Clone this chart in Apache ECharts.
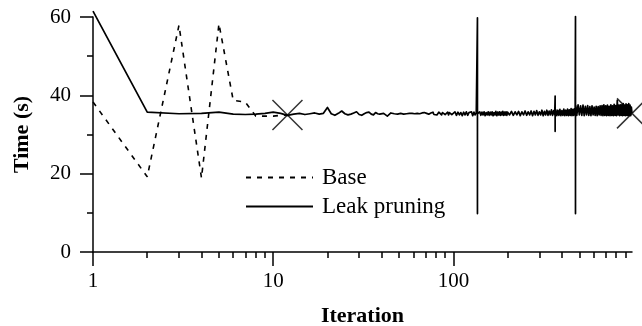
<!DOCTYPE html>
<html>
<head>
<meta charset="utf-8">
<script src="https://cdn.jsdelivr.net/npm/echarts@6/dist/echarts.min.js"></script>
<style>
  html, body { margin: 0; padding: 0; background: #fff; }
  #chart { width: 642px; height: 326px; }
</style>
</head>
<body>
<div id="chart"></div>
<script>
// Base run, iterations 1..12
const baseTime = [38.3, 19.2, 57.9, 18.9, 58.3, 38.7, 38.3, 34.7, 34.7, 34.7, 34.9, 35.0]

// Leak pruning, iterations 1..99 (one value per iteration)
const leakHead = [
  61.5, 35.7, 35.3, 35.4, 35.7, 35.2, 35.1, 35.2, 35.4, 35.7,
  35.4, 34.9, 35.2, 35.4, 35.1, 35.3, 35.5, 35.2, 35.4, 36.9,
  35.3, 34.9, 35.4, 36.0, 35.3, 35.0, 35.2, 35.5, 35.8, 35.1,
  34.9, 35.3, 35.6, 35.7, 35.2, 35.0, 35.6, 35.3, 35.2, 35.7,
  35.4, 35.0, 34.7, 35.2, 35.5, 35.1, 35.3, 35.6, 35.2, 35.0,
  35.4, 35.6, 35.2, 35.0, 35.3, 35.6, 35.4, 35.1, 35.4, 35.6,
  35.3, 35.0, 35.4, 35.7, 35.3, 35.1, 35.5, 35.2, 35.6, 35.1,
  35.4, 35.7, 35.2, 35.0, 35.5, 35.3, 35.7, 35.1, 35.4, 35.6,
  35.0, 35.4, 35.7, 35.2, 35.5, 35.0, 35.6, 35.3, 35.7, 35.1,
  35.5, 35.2, 35.7, 35.0, 35.6, 35.3, 35.8, 35.1, 35.6
]

// Leak pruning from iteration 100 on, [iteration, time] (sampled, spikes kept)
const leakTail = [
  [100, 35.2], [102, 35.8], [104, 34.9], [106, 35.7], [108, 35.0], [110, 35.6],
  [112, 34.8], [114, 35.7], [116, 35.0], [118, 35.8], [120, 34.9], [122, 35.6],
  [124, 35.1], [126, 35.8], [128, 34.8], [130, 35.7], [132, 35.0], [134, 35.6],
  [136, 35.3], [136, 59.8], [136, 9.8], [136, 35.3],
  [138, 35.0], [140, 35.8], [142, 34.9], [144, 35.7], [146, 35.0], [148, 35.8],
  [150, 34.8], [152, 35.6], [154, 35.0], [156, 35.8], [158, 34.9], [160, 35.7],
  [162, 35.0], [164, 35.8], [166, 34.8], [168, 35.6], [170, 35.0], [172, 35.9],
  [174, 34.8], [176, 35.7], [178, 35.0], [180, 35.8], [182, 34.9], [184, 35.7],
  [186, 35.0], [188, 35.9], [190, 34.9], [192, 35.7], [194, 35.0], [196, 35.8],
  [198, 34.9], [200, 35.7],
  [205, 35.0], [210, 35.9], [215, 34.9], [220, 35.8], [225, 35.0], [230, 35.9],
  [235, 34.8], [240, 35.8], [245, 35.0], [250, 36.0], [255, 34.9], [260, 35.8],
  [265, 35.0], [270, 36.0], [275, 34.8], [280, 35.9], [285, 35.0], [290, 36.1],
  [295, 34.9], [300, 35.8], [305, 35.0], [310, 36.2], [315, 34.8], [320, 35.9],
  [325, 35.0], [330, 36.2], [335, 34.9], [340, 36.0], [345, 35.0], [350, 36.3],
  [355, 34.9], [360, 36.1], [365, 35.0],
  [367, 35.4], [367, 39.8], [367, 30.8], [367, 35.4],
  [370, 36.3], [375, 34.8], [380, 36.2], [385, 34.9], [390, 36.4], [395, 34.8],
  [400, 36.1], [405, 34.9], [410, 36.5], [415, 34.8], [420, 36.2], [425, 34.9],
  [430, 36.5], [435, 34.8], [440, 36.3], [445, 34.9], [450, 36.6], [455, 34.8],
  [460, 36.4], [465, 34.9], [470, 36.6], [474, 35.0],
  [476, 35.5], [476, 60.1], [476, 9.8], [476, 35.5],
  [478, 37.4], [484, 34.9], [492, 37.6], [500, 35.0], [508, 37.3], [516, 34.9],
  [524, 37.5], [532, 34.8], [540, 37.2], [548, 35.0], [556, 37.4], [564, 34.9],
  [572, 37.1], [580, 34.8], [588, 37.3], [596, 35.0], [604, 37.0], [612, 34.9],
  [620, 37.2], [628, 34.8], [636, 37.1], [644, 35.0], [652, 37.3], [660, 34.9],
  [668, 37.4], [676, 34.8], [684, 37.6], [692, 34.9], [700, 37.3], [708, 34.8],
  [716, 37.5], [724, 34.9], [732, 37.2], [740, 34.8], [748, 37.6], [756, 34.9],
  [764, 37.3], [772, 34.8], [780, 37.7], [788, 34.9], [796, 37.4], [804, 34.8],
  [812, 38.7], [820, 35.0], [828, 37.5], [836, 34.8], [844, 37.6], [852, 34.9],
  [860, 37.6], [868, 34.8], [876, 37.9], [884, 34.9], [892, 37.5], [900, 34.8],
  [908, 37.8], [916, 34.9], [924, 37.6], [932, 34.8], [940, 37.9], [948, 34.9],
  [956, 37.5], [964, 34.8], [972, 37.0], [980, 35.4]
]

// end-of-run markers
const baseEnd = [[12, 35.0]]
const leakEnd = [[980, 35.4]]

// axis ticks
const xLabels = [1, 10, 100]
const xMinorTicks = [2, 3, 4, 5, 6, 7, 8, 9, 20, 30, 40, 50, 60, 70, 80, 90,
  200, 300, 400, 500, 600, 700, 800, 900]

const FONT = 'Liberation Serif'
const chart = echarts.init(document.getElementById('chart'))

const baseData = baseTime.map((v, i) => [i + 1, v])
const leakData = leakHead.map((v, i) => [i + 1, v]).concat(leakTail)

const crossSymbol = 'path://M0,0L10,10M10,0L0,10'

const option = {
  animation: false,
  grid: { left: 93, right: 10, top: 17, bottom: 74, outerBoundsMode: 'none' },
  legend: {
    data: ['Base', 'Leak pruning'],
    orient: 'vertical',
    left: 240,
    top: 161,
    itemWidth: 67,
    itemHeight: 14,
    itemGap: 6,
    itemStyle: { opacity: 0 },
    textStyle: { fontFamily: FONT, fontSize: 23, color: '#000', padding: [0, 0, 0, 4] },
  },
  xAxis: [
    {
      type: 'log',
      logBase: 10,
      min: 1,
      max: 980,
      name: 'Iteration',
      nameLocation: 'middle',
      nameGap: 53,
      nameTextStyle: { fontFamily: FONT, fontSize: 22, fontWeight: 'bold', color: '#000' },
      axisLine: { lineStyle: { color: '#000', width: 1.5 } },
      axisTick: { customValues: xLabels, length: 14, lineStyle: { color: '#000', width: 1.5 } },
      axisLabel: { customValues: xLabels, fontFamily: FONT, fontSize: 21, color: '#000', margin: 19 },
      splitLine: { show: false },
    },
    {
      type: 'log',
      logBase: 10,
      min: 1,
      max: 980,
      position: 'bottom',
      axisLine: { show: false },
      axisTick: { customValues: xMinorTicks, length: 6, lineStyle: { color: '#000', width: 1.5 } },
      axisLabel: { show: false },
      splitLine: { show: false },
    },
  ],
  yAxis: {
    type: 'value',
    min: 0,
    max: 60,
    interval: 20,
    name: 'Time (s)',
    nameLocation: 'middle',
    nameGap: 60,
    nameTextStyle: { fontFamily: FONT, fontSize: 22, fontWeight: 'bold', color: '#000' },
    axisLine: { show: true, lineStyle: { color: '#000', width: 1.5 } },
    axisTick: { show: true, length: 13, lineStyle: { color: '#000', width: 1.5 } },
    minorTick: { show: true, splitNumber: 2, length: 6, lineStyle: { color: '#000', width: 1.5 } },
    axisLabel: { fontFamily: FONT, fontSize: 21, color: '#000', margin: 22 },
    splitLine: { show: false },
  },
  series: [
    {
      name: 'Base',
      type: 'line',
      data: baseData,
      symbol: 'none',
      clip: false,
      lineStyle: { color: '#000', width: 1.6, type: [5, 6] },
      itemStyle: { color: '#000' },
    },
    {
      name: 'Leak pruning',
      type: 'line',
      data: leakData,
      symbol: 'none',
      clip: false,
      sampling: 'none',
      lineStyle: { color: '#000', width: 1.7, join: 'round' },
      itemStyle: { color: '#000' },
    },
    {
      name: 'baseEnd',
      type: 'scatter',
      data: baseEnd,
      symbol: crossSymbol,
      symbolSize: 30,
      clip: false,
      itemStyle: { color: 'none', borderColor: '#000', borderWidth: 1.5 },
    },
    {
      name: 'leakEnd',
      type: 'scatter',
      data: leakEnd,
      symbol: crossSymbol,
      symbolSize: 30,
      clip: false,
      itemStyle: { color: 'none', borderColor: '#000', borderWidth: 1.5 },
    },
  ],
}

chart.setOption(option)
</script>
</body>
</html>
